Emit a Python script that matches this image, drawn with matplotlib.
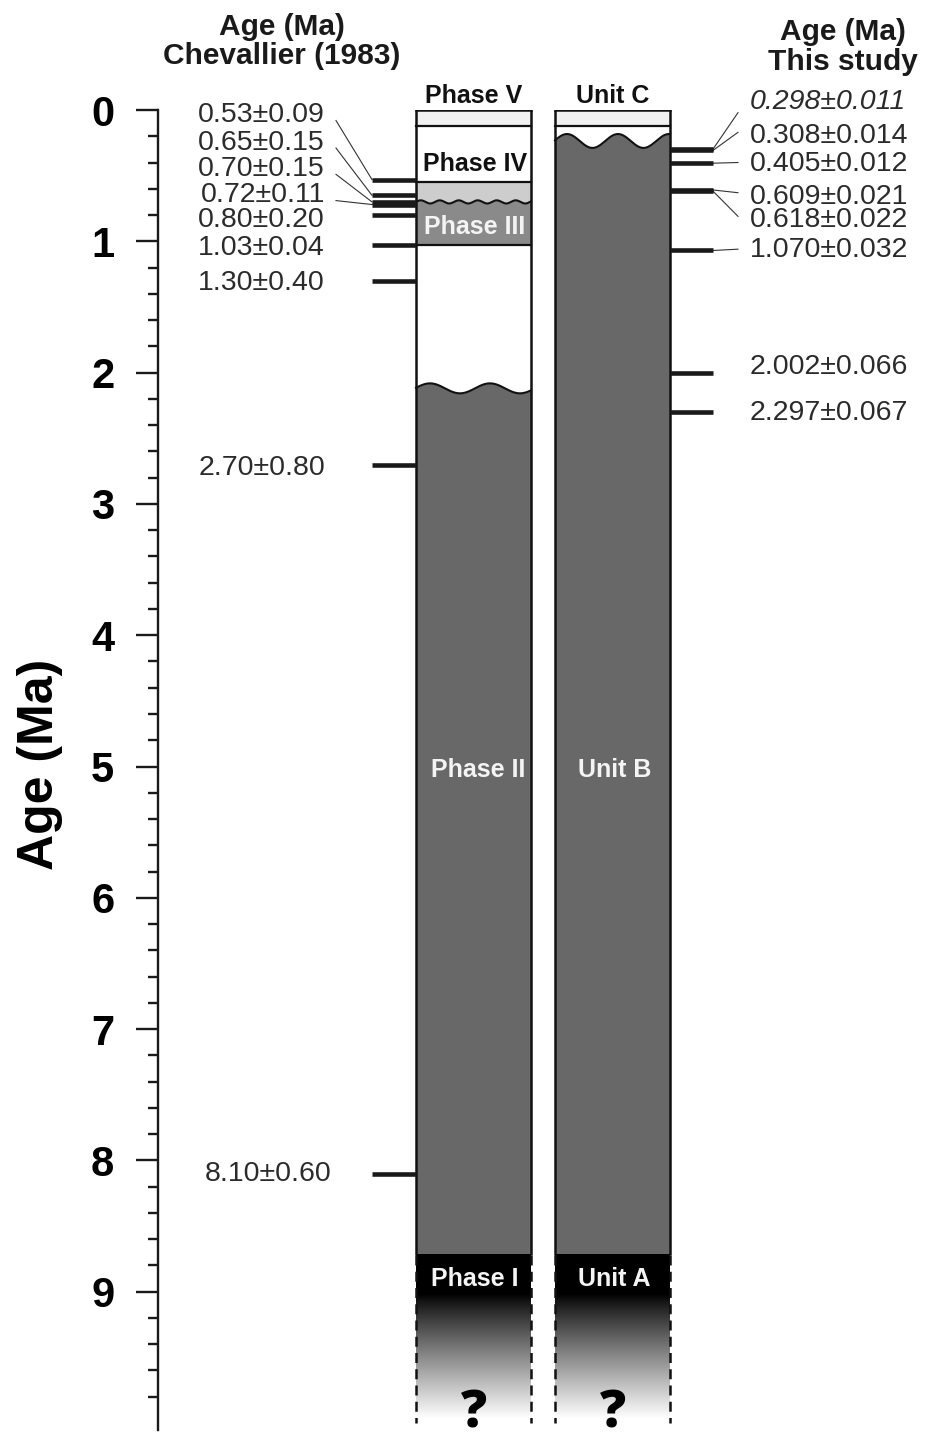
import numpy as np
import matplotlib
matplotlib.use("Agg")
import matplotlib.pyplot as plt

# ---------------- data ----------------
age_major_ticks = [0, 1, 2, 3, 4, 5, 6, 7, 8, 9]
age_minor_ticks = [round(0.2 * i, 1) for i in range(0, 50)]

chev_ages = [0.53, 0.65, 0.70, 0.72, 0.80, 1.03, 1.30, 2.70, 8.10]
chev_errs = [0.09, 0.15, 0.15, 0.11, 0.20, 0.04, 0.40, 0.80, 0.60]

study_ages = [0.298, 0.308, 0.405, 0.609, 0.618, 1.070, 2.002, 2.297]
study_errs = [0.011, 0.014, 0.012, 0.021, 0.022, 0.032, 0.066, 0.067]

phase_names = ["Phase V", "Phase IV", "", "Phase III", "", "Phase II", "Phase I"]
phase_tops = [0.0, 0.125, 0.55, 0.70, 1.03, 2.12, 8.72]
phase_bases = [0.125, 0.55, 0.70, 1.03, 2.12, 8.72, 10.0]

unit_names = ["Unit C", "", "Unit B", "Unit A"]
unit_tops = [0.0, 0.125, 0.236, 8.72]
unit_bases = [0.125, 0.236, 8.72, 10.0]

# ---------------- layout / style ----------------
FONT = "Liberation Sans"
plt.rcParams["font.family"] = [FONT, "DejaVu Sans"]
TXT = "#2b2b2b"

fig = plt.figure(figsize=(9.25, 14.4), dpi=100)
ymax = 10.05
ax = fig.add_axes([158 / 925, 1 - (110 + ymax * 131.3) / 1440, 767 / 925, ymax * 131.3 / 1440])
ax.set_xlim(158, 925)
ax.set_ylim(ymax, 0)

for s in ["top", "right", "bottom"]:
    ax.spines[s].set_visible(False)
ax.spines["left"].set_linewidth(1.7)
ax.spines["left"].set_color("#1a1a1a")
ax.set_xticks([])
ax.set_yticks(age_major_ticks)
ax.set_yticks([t for t in age_minor_ticks if t not in age_major_ticks], minor=True)
ax.tick_params(axis="y", which="major", length=15.5, width=1.7, direction="out",
               pad=16, labelsize=30, color="#1a1a1a")
ax.tick_params(axis="y", which="minor", length=7.5, width=1.7, direction="out", color="#1a1a1a")
for lab in ax.get_yticklabels():
    lab.set_fontweight("bold")
ax.set_ylabel("Age (Ma)", fontsize=36, fontweight="bold", va="center")
ax.yaxis.set_label_coords(-0.154, 0.504)

PX0, PX1 = 416, 531   # phase column
UX0, UX1 = 555, 670   # unit column
EDGE = "#111111"

def column(x0, x1, tops, bases, colors, waves):
    w = x1 - x0
    c = (x0 + x1) / 2
    for i, (t, b, col) in enumerate(zip(tops, bases, colors)):
        if col is None:
            continue
        tt = t
        if i in waves:
            tt = t - waves[i][0] - 0.01
        ax.bar(c, b - tt, bottom=tt, width=w, color=col, edgecolor="none", zorder=1)
    for i, (amp, period, x0w) in waves.items():
        xs = np.linspace(x0, x1, 300)
        yw = tops[i] - amp * np.sin(2 * np.pi * (xs - x0w) / period)
        ax.fill_between(xs, tops[i] - amp - 0.03, yw, color=colors[i - 1], lw=0, zorder=2)
        ax.plot(xs, yw, color=EDGE, lw=1.5, zorder=4)

    # gradient bottom unit
    t, b = tops[-1], bases[-1]
    ages = np.linspace(t, b, 200)
    g = np.clip((ages - 9.02) / 0.95, 0, 1) ** 0.9
    img = np.repeat(g[:, None], 2, axis=1)
    ax.imshow(img, cmap="gray", vmin=0, vmax=1, extent=(x0, x1, b, t),
              origin="upper", aspect="auto", zorder=1, interpolation="bilinear")
    # outline
    for xx in (x0, x1):
        ax.plot([xx, xx], [t, 0], color=EDGE, lw=1.8, zorder=5, solid_capstyle="butt")
        ax.plot([xx, xx], [t, b], color=EDGE, lw=1.8, ls=(0, (4, 2.5)), zorder=5)
    ax.plot([x0, x1], [0, 0], color=EDGE, lw=1.8, zorder=5)
    ax.text(c, 9.93, "?", ha="center", va="center", fontsize=37, fontweight="heavy",
            color="black", zorder=6, family="Open Sans")

phase_colors = ["#f1f1f1", "white", "#cdcdcd", "#8a8a8a", "white", "#686868", None]
column(PX0, PX1, phase_tops, phase_bases, phase_colors,
       {3: (0.012, 19, PX0), 5: (0.038, 60, 415)})
for y in [phase_bases[0], phase_bases[1], phase_bases[3]]:
    ax.plot([PX0, PX1], [y, y], color=EDGE, lw=1.6, zorder=4)

unit_colors = ["#f1f1f1", "white", "#686868", None]
column(UX0, UX1, unit_tops, unit_bases, unit_colors, {2: (0.053, 51, 554.25)})
ax.plot([UX0, UX1], [unit_bases[0], unit_bases[0]], color=EDGE, lw=1.6, zorder=4)

# column labels
pc, uc = (PX0 + PX1) / 2, (UX0 + UX1) / 2
lab_kw = dict(ha="center", va="center", fontsize=18, fontweight="bold", zorder=7)
ax.text(pc, -0.11, phase_names[0], color="#111111", **lab_kw)
ax.text(pc + 2, 0.41, phase_names[1], color="#111111", **lab_kw)
ax.text(pc + 1, 0.89, phase_names[3], color="#f4f4f4", **lab_kw)
ax.text(pc + 5, 5.03, phase_names[5], color="#f4f4f4", **lab_kw)
ax.text(pc + 1, 8.90, phase_names[6], color="#f4f4f4", **lab_kw)
ax.text(uc, -0.11, unit_names[0], color="#111111", **lab_kw)
ax.text(uc + 2, 5.03, unit_names[2], color="#f4f4f4", **lab_kw)
ax.text(uc + 2, 8.90, unit_names[3], color="#f4f4f4", **lab_kw)

# Chevallier markers and labels
ax.hlines(chev_ages, 372, PX0, color="#1a1a1a", lw=3.3, zorder=5)
chev_label_y = [0.04, 0.25, 0.45, 0.65, 0.84, 1.05, 1.32, 2.73, 8.10]
chev_label_x = [325, 325, 325, 325, 325, 325, 325, 325, 331]
for a, e, ly, lx in zip(chev_ages, chev_errs, chev_label_y, chev_label_x):
    ax.text(lx, ly, f"{a:.2f}\u00b1{e:.2f}", ha="right", va="center",
            fontsize=20.5, color=TXT)
for i in range(4):
    ax.plot([336, 372], [chev_label_y[i] + 0.04, chev_ages[i]], color="#333333", lw=0.8, zorder=4)

# This-study markers and labels
ax.hlines(study_ages, UX1, 713, color="#1a1a1a", lw=3.3, zorder=5)
study_label_y = [-0.06, 0.20, 0.41, 0.66, 0.84, 1.07, 1.96, 2.31]
leader_end_y = [0.02, 0.17, 0.40, 0.63, 0.81, 1.06]
for i, (a, e, ly) in enumerate(zip(study_ages, study_errs, study_label_y)):
    ax.text(750, ly, f"{a:.3f}\u00b1{e:.3f}", ha="left", va="center",
            fontsize=20.5, color=TXT, style="italic" if i == 0 else "normal")
for i in range(6):
    ax.plot([713, 738], [study_ages[i], leader_end_y[i]], color="#333333", lw=0.8, zorder=4)

# headers
ax.text(282, -0.52, "Age (Ma)\nChevallier (1983)", ha="center", va="center",
        fontsize=21.5, fontweight="bold", color="#1a1a1a", linespacing=1.05)
ax.text(843, -0.48, "Age (Ma)\nThis study", ha="center", va="center",
        fontsize=21.5, fontweight="bold", color="#1a1a1a", linespacing=1.05)

fig.savefig("out.png", dpi=100, facecolor="white")
